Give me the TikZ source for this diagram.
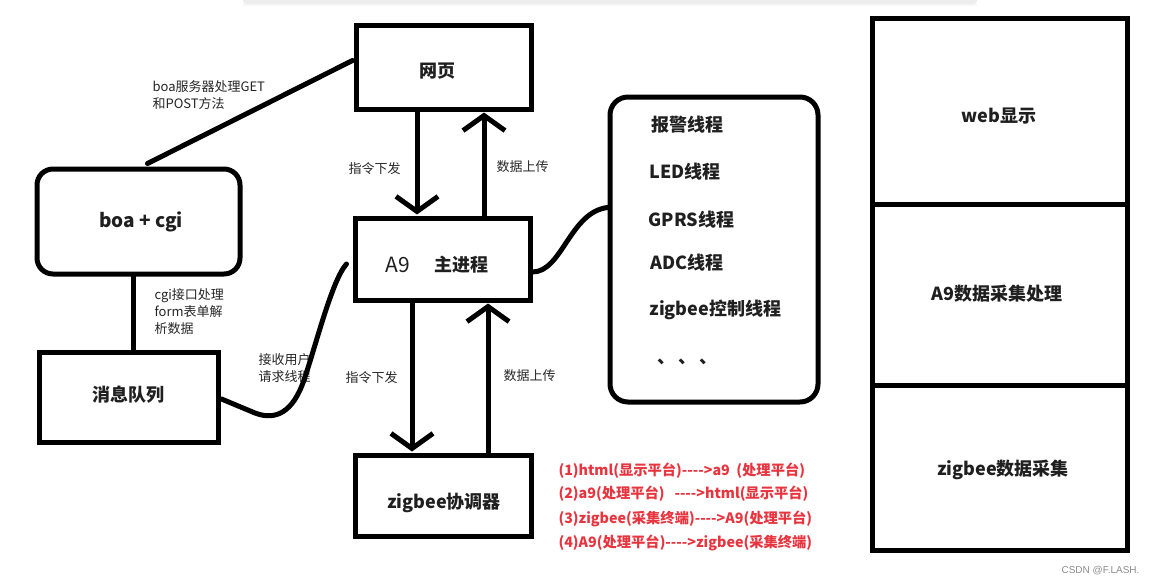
\documentclass[tikz,border=0pt]{standalone}
\usepackage{fontspec}
\newfontfamily\cjk{Noto Sans CJK SC}
\newfontfamily\wm{Liberation Sans}
\usetikzlibrary{arrows.meta,calc}
\definecolor{redtxt}{RGB}{232,52,62}
\begin{document}
\begin{tikzpicture}[x=1pt,y=-1pt,
  box/.style={draw, line width=5pt, inner sep=0pt},
  rbox/.style={box, rounded corners=16pt},
  big/.style={font=\cjk\bfseries\fontsize{18}{20}\selectfont, text=black!88},
  small/.style={font=\cjk\fontsize{13}{17}\selectfont, align=left, anchor=west, text=black!85},
  redl/.style={font=\cjk\bfseries\fontsize{14.3}{16}\selectfont, anchor=west, text=redtxt},
  thr/.style={font=\cjk\bfseries\fontsize{18}{20}\selectfont, anchor=west, text=black!88},
  conn/.style={line width=5pt, line cap=round},
  arr/.style={line width=5pt, -{Straight Barb[length=15pt,width=42pt]}, shorten >=1pt}]
\useasboundingbox (0,0) rectangle (1158,586);
% faint strip at top
\fill[black!7, rounded corners=3pt] (243,-6) rectangle (977,4);
\fill[black!3] (243,4) rectangle (977,6);
% boxes
\node[box, minimum width=175pt, minimum height=83pt] (web) at (443.5,67.5) {};
\node[box, minimum width=175pt, minimum height=82pt] (a9) at (442.5,259) {};
\node[box, minimum width=176pt, minimum height=81pt] (zb) at (443,495.5) {};
\node[rbox, minimum width=203pt, minimum height=105pt] (boa) at (138.5,221.5) {};
\node[box, minimum width=179pt, minimum height=90pt] (msg) at (128.5,397) {};
\node[rbox, rounded corners=18pt, minimum width=208pt, minimum height=305pt] (thr) at (714,249.5) {};
\node[box, minimum width=255pt, minimum height=185pt] (rweb) at (999.5,111.5) {};
\node[box, minimum width=255pt, minimum height=181pt] (ra9) at (999.5,294.5) {};
\node[box, minimum width=255pt, minimum height=165pt] (rzb) at (999.5,467.5) {};
% box texts
\node[big] (twebt) at (437,71) {网页};
\node[font=\cjk\fontsize{21}{22}\selectfont, text=black!88] (ta9a) at (398,265) {A9};
\node[big] (ta9b) at (461,265) {主进程};
\node[big] (tzb) at (444,503) {zigbee协调器};
\node[big, font=\cjk\bfseries\fontsize{19}{20}\selectfont] (tboa) at (141,222) {boa + cgi};
\node[big] (tmsg) at (128,395) {消息队列};
\node[big] (trweb) at (999,116) {web显示};
\node[big] (tra9) at (997,294) {A9数据采集处理};
\node[big] (trzb) at (1003,470) {zigbee数据采集};
% thread list
\node[thr] (t1) at (648,125) {报警线程};
\node[thr] (t2) at (646,172) {LED线程};
\node[thr] (t3) at (645,220) {GPRS线程};
\node[thr] (t4) at (647,263) {ADC线程};
\node[thr] (t5) at (646,310) {zigbee控制线程};
\node[thr] (t6) at (654,362) {、\,、\,、};
% small labels
\node[small] (l1) at (149,95) {boa服务器处理GET\\和POST方法};
\node[small] (l2) at (345,169) {指令下发};
\node[small] (l3) at (493,167) {数据上传};
\node[small] (l4) at (342,378) {指令下发};
\node[small] (l5) at (500,376) {数据上传};
\node[small] (l6) at (151,312) {cgi接口处理\\form表单解\\析数据};
\node[small] (l7) at (255,368) {接收用户\\请求线程};
% red notes
\node[redl] (r1) at (555,471) {(1)html(显示平台)---->a9\ \ (处理平台)};
\node[redl] (r2) at (555,494) {(2)a9(处理平台)\ \ \ ---->html(显示平台)};
\node[redl] (r3) at (555,519) {(3)zigbee(采集终端)---->A9(处理平台)};
\node[redl] (r4) at (555,543) {(4)A9(处理平台)---->zigbee(采集终端)};
% watermark
\node[font=\wm\fontsize{10}{12}\selectfont, text=black!45, anchor=east] (wmk) at (1143,571) {CSDN @F.LASH.};
% helper coordinates
\coordinate (x417) at (417,0);
\coordinate (x484) at (484,0);
\coordinate (x412) at (412,0);
\coordinate (x488) at (488,0);
\coordinate (x133) at (133,0);
% arrows
\draw[arr] (web.south -| x417) -- (a9.north -| x417);
\draw[arr] (a9.north -| x484) -- (web.south -| x484);
\draw[arr] (a9.south -| x412) -- (zb.north -| x412);
\draw[arr] (zb.north -| x488) -- (a9.south -| x488);
% plain connectors
\draw[conn] ($(web.west)+(-1,-7)$) -- ($(boa.north)+(9,-3)$);
\draw[conn] (boa.south -| x133) -- (msg.north -| x133);
\draw[conn] ($(msg.east)+(1,2)$) -- (255,413) .. controls (276,421) and (293,412) .. (304,380) .. controls (316,345) and (332,280) .. ($(a9.west)+(-6,5)$);
\draw[conn] ($(a9.east)+(0,13)$) .. controls (562,272) and (570,212) .. ($(thr.west)+(0,-42)$);
\end{tikzpicture}
\end{document}
